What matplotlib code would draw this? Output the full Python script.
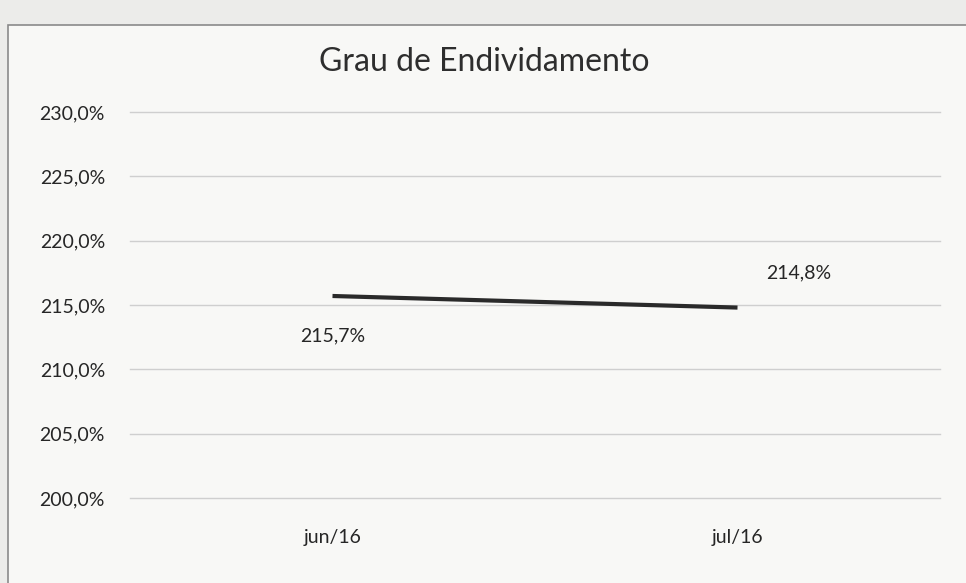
import matplotlib
matplotlib.use("Agg")
import matplotlib.pyplot as plt
from matplotlib.patches import Rectangle

categories = ["jun/16", "jul/16"]
values = [215.7, 214.8]
y_ticks = [200, 205, 210, 215, 220, 225, 230]

plt.rcParams['font.family'] = ['Lato', 'DejaVu Sans']

fig = plt.figure(figsize=(9.66, 5.83), dpi=100, facecolor='#ececea')
W, H = 966, 583
ax = fig.add_axes([130 / W, 1 - 498 / H, (940 - 130) / W, (498 - 112) / H])
ax.set_facecolor('#f8f8f6')

# chart border
fig.patches.append(Rectangle((8 / W, -0.05), 1.1, 1.05 - 25 / H, transform=fig.transFigure,
                             fill=True, facecolor='#f8f8f6', edgecolor='#8a8a8a', linewidth=1.2, zorder=-10))

x = list(range(len(categories)))
ax.plot(x, values, color='#2a2a2a', linewidth=3.0, solid_capstyle='butt', zorder=3)

txt = '#262626'
fs = 14
ax.set_xlim(-0.5, 1.5)
ax.set_ylim(200, 230)
ax.set_yticks(y_ticks)
ax.set_yticklabels([f"{v:.1f}".replace('.', ',') + '%' for v in y_ticks], fontsize=fs, color=txt)
ax.set_xticks(x)
ax.set_xticklabels(categories, fontsize=fs, color=txt)
ax.tick_params(axis='both', length=0)
ax.tick_params(axis='y', pad=18)
ax.tick_params(axis='x', pad=22)
ax.grid(axis='y', color='#cfcfcf', linewidth=1.0, clip_on=False)
for s in ax.spines.values():
    s.set_visible(False)

fmt = lambda v: f"{v:.1f}".replace('.', ',') + '%'
ax.annotate(fmt(values[0]), (x[0], values[0]), xytext=(0, -29), textcoords='offset points',
            ha='center', va='center', fontsize=fs, color=txt)
ax.annotate(fmt(values[1]), (x[1], values[1]), xytext=(44, 25), textcoords='offset points',
            ha='center', va='center', fontsize=fs, color=txt)

fig.text(484 / W, 1 - 62 / H, "Grau de Endividamento", ha='center', va='center',
         fontsize=23, color='#2e2e2e')

fig.savefig("out.png", dpi=100, facecolor=fig.get_facecolor())
